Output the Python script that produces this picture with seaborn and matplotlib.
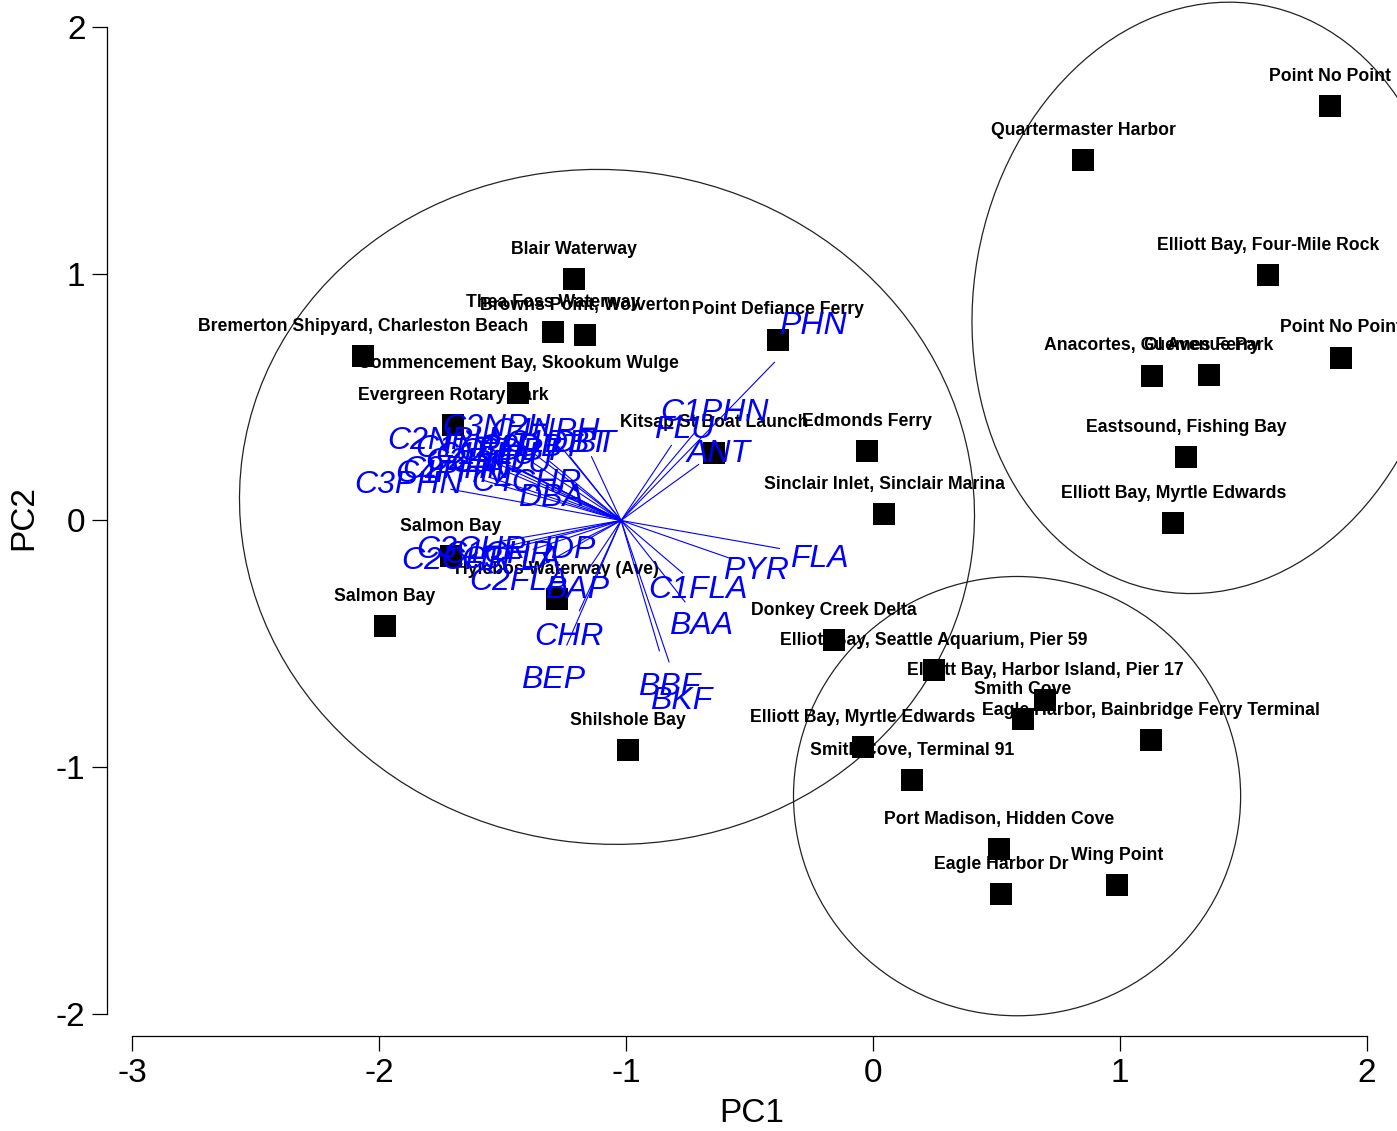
import numpy as np
import pandas as pd
import matplotlib
matplotlib.use("Agg")
import matplotlib.pyplot as plt
from matplotlib.patches import Ellipse
import seaborn as sns

# Site scores on the first two principal components
site_names = [
    "Point No Point", "Quartermaster Harbor", "Blair Waterway",
    "Elliott Bay, Four-Mile Rock", "Thea Foss Waterway", "Browns Point, Wolverton",
    "Point Defiance Ferry", "Point No Point", "Bremerton Shipyard, Charleston Beach",
    "Anacortes, Guemes Ferry", "Ol Avenue Park", "Commencement Bay, Skookum Wulge",
    "Evergreen Rotary Park", "Kitsap St Boat Launch", "Edmonds Ferry",
    "Eastsound, Fishing Bay", "Sinclair Inlet, Sinclair Marina", "Elliott Bay, Myrtle Edwards",
    "Salmon Bay", "Hylebos Waterway (Ave)", "Salmon Bay", "Donkey Creek Delta",
    "Elliott Bay, Seattle Aquarium, Pier 59", "Elliott Bay, Harbor Island, Pier 17",
    "Smith Cove", "Eagle Harbor, Bainbridge Ferry Terminal", "Elliott Bay, Myrtle Edwards",
    "Smith Cove, Terminal 91", "Shilshole Bay", "Port Madison, Hidden Cove",
    "Eagle Harbor Dr", "Wing Point",
]
pc1 = [1.850, 0.850, -1.211, 1.599, -1.296, -1.166, -0.385, 1.895, -2.065, 1.130,
       1.360, -1.437, -1.700, -0.644, -0.024, 1.267, 0.045, 1.215, -1.709, -1.279,
       -1.976, -0.158, 0.247, 0.696, 0.607, 1.126, -0.040, 0.158, -0.992, 0.510,
       0.518, 0.988]
pc2 = [1.680, 1.461, 0.979, 0.995, 0.764, 0.752, 0.732, 0.659, 0.667, 0.586,
       0.590, 0.517, 0.387, 0.274, 0.282, 0.257, 0.026, -0.010, -0.144, -0.318,
       -0.428, -0.484, -0.606, -0.727, -0.804, -0.890, -0.918, -1.052, -0.930, -1.331,
       -1.514, -1.477]

# Variable loadings (PAH compounds), relative to the loading origin
var_names = [
    "PHN", "C1PHN", "FLU", "ANT", "FLA", "PYR", "C1FLA", "BAA", "BBF", "BKF",
    "BEP", "CHR", "BAP", "C2FLA", "IDP", "C3CHR", "C2CHR", "C1CHR", "C3FLA",
    "C3NPH", "C4NPH", "C2NPH", "C1NPH", "DBT", "C1DBT", "C2DBT", "C3DBT",
    "C1FLU", "C2FLU", "C3FLU", "C2PHN", "C4PHN", "C3PHN", "C4CHR", "DBA",
]
load1 = [0.777, 0.377, 0.255, 0.393, 0.802, 0.547, 0.312, 0.324, 0.194, 0.243,
         -0.275, -0.211, -0.178, -0.413, -0.211, -0.607, -0.668, -0.498, -0.445,
         -0.506, -0.304, -0.729, -0.615, -0.150, -0.259, -0.372, -0.445,
         -0.547, -0.587, -0.486, -0.668, -0.696, -0.862, -0.385, -0.283]
load2 = [0.802, 0.450, 0.381, 0.284, -0.142, -0.190, -0.267, -0.413, -0.661, -0.717,
         -0.632, -0.458, -0.267, -0.235, -0.105, -0.105, -0.150, -0.126, -0.146,
         0.389, 0.373, 0.336, 0.304, 0.324, 0.324, 0.308, 0.292,
         0.276, 0.251, 0.243, 0.219, 0.203, 0.158, 0.166, 0.105]
loading_origin = (-1.02, 0.0)
arrow_scale = 0.8

# Cluster ellipses: centre, width, height, rotation
ell_cx = [-1.077, 1.364, 0.583]
ell_cy = [0.055, 0.902, -1.117]
ell_w = [2.98, 1.91, 1.81]
ell_h = [2.73, 2.41, 1.78]
ell_angle = [-8.0, -10.0, 0.0]

sns.set_style("ticks")
plt.rcParams["font.family"] = ["Liberation Sans", "DejaVu Sans"]

W, H = 1397, 1131
fig = plt.figure(figsize=(W / 100, H / 100), dpi=100)
ax = fig.add_axes([107 / W, 95 / H, 1290 / W, 1036 / H])

# Cluster outlines
for cx, cy, w, h, a in zip(ell_cx, ell_cy, ell_w, ell_h, ell_angle):
    ax.add_patch(Ellipse((cx, cy), w, h, angle=a, fill=False,
                         edgecolor="#222222", linewidth=0.9, zorder=1))

# Site labels and markers
sites = pd.DataFrame({"site": site_names, "PC1": pc1, "PC2": pc2})
for _, r in sites.iterrows():
    ax.annotate(r["site"], (r["PC1"], r["PC2"]), xytext=(0, 21.5),
                textcoords="offset points", ha="center", va="center",
                fontsize=12.7, fontweight="bold", color="black",
                zorder=2, annotation_clip=False)
sns.scatterplot(data=sites, x="PC1", y="PC2", marker="s", s=250,
                color="black", linewidth=0, ax=ax, zorder=3)

# Loading arrows and labels
ox, oy = loading_origin
for name, l1, l2 in zip(var_names, load1, load2):
    ax.plot([ox, ox + arrow_scale * l1], [oy, oy + arrow_scale * l2],
            color="blue", linewidth=0.8, zorder=4)
    ax.text(ox + l1, oy + l2, name, color="blue", fontsize=23,
            fontstyle="italic", ha="center", va="center_baseline", zorder=5)

ax.set_xlim(-3.101, 2.121)
ax.set_ylim(-2.089, 2.109)
ax.set_xticks([-3, -2, -1, 0, 1, 2])
ax.set_yticks([-2, -1, 0, 1, 2])
ax.set_xticklabels(["-3", "-2", "-1", "0", "1", "2"])
ax.set_yticklabels(["-2", "-1", "0", "1", "2"])
for s in ("top", "right"):
    ax.spines[s].set_visible(False)
ax.spines["left"].set_bounds(-2, 2)
ax.spines["bottom"].set_bounds(-3, 2)
for s in ("left", "bottom"):
    ax.spines[s].set_linewidth(0.9)
    ax.spines[s].set_color("black")
ax.tick_params(axis="both", direction="out", length=10.5, width=0.9,
               labelsize=24, pad=5, colors="black")
ax.set_xlabel("PC1", fontsize=24, labelpad=7, color="black")
ax.set_ylabel("PC2", fontsize=24, labelpad=12, color="black")
ax.set_facecolor("white")
fig.patch.set_facecolor("white")

fig.savefig("out.png", dpi=100)
